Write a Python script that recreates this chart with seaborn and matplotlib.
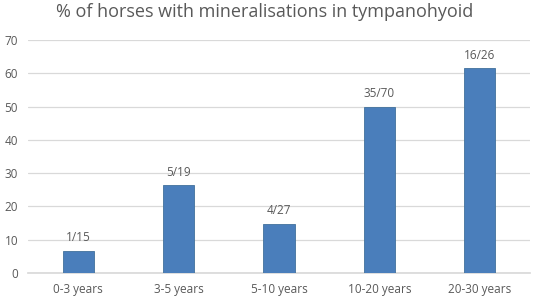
import numpy as np
import pandas as pd
import matplotlib.pyplot as plt
import seaborn as sns

# data
age_groups = ['0-3 years', '3-5 years', '5-10 years', '10-20 years', '20-30 years']
percent = [6.7, 26.3, 14.8, 50.0, 61.5]
counts = ['1/15', '5/19', '4/27', '35/70', '16/26']

df = pd.DataFrame({'age': age_groups, 'pct': percent})

sns.set_theme(style='white')
plt.rcParams['font.family'] = ['Open Sans', 'DejaVu Sans']
grey = '#595959'

fig = plt.figure(figsize=(5.36, 3.0), dpi=100)
ax = fig.add_axes([0.052, 0.09, 0.937, 0.777])

sns.barplot(data=df, x='age', y='pct', color='#4a7ebb', saturation=1,
            width=0.31, edgecolor='#41719c', linewidth=0.6, ax=ax, zorder=3)

for i, (v, lab) in enumerate(zip(percent, counts)):
    ax.text(i, v + 2.0, lab, ha='center', va='bottom', fontsize=8.5, color=grey)

ax.set_ylim(0, 70)
ax.set_yticks(np.arange(0, 71, 10))
ax.yaxis.grid(True, color='#d9d9d9', linewidth=0.9, zorder=0)
for s in ['top', 'right', 'left']:
    ax.spines[s].set_visible(False)
ax.spines['bottom'].set_color('#d9d9d9')
ax.tick_params(axis='both', length=0, labelsize=8.5, colors=grey, pad=7)
ax.set_xlabel('')
ax.set_ylabel('')
fig.suptitle('% of horses with mineralisations in tympanohyoid',
             x=0.493, y=0.99, fontsize=13, color=grey)

fig.savefig('out.png', dpi=100)
